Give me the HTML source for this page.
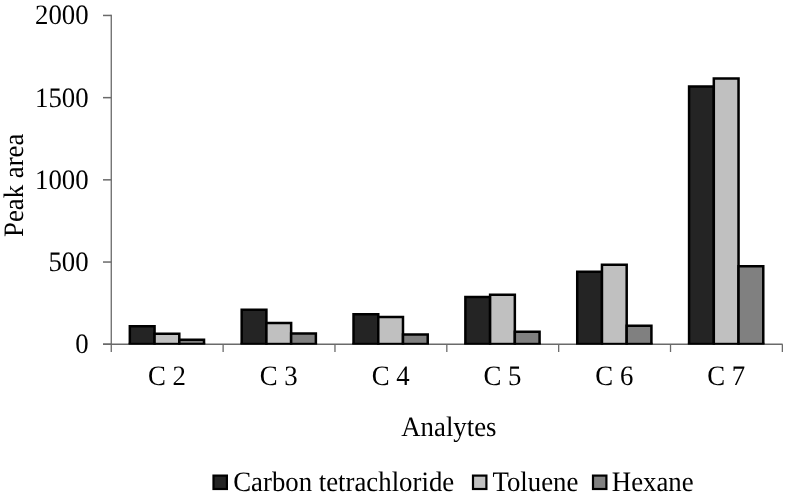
<!DOCTYPE html>
<html><head><meta charset="utf-8"><style>
html,body{margin:0;padding:0;background:#fff;}
svg{display:block;will-change:transform;}
text{text-rendering:geometricPrecision;font-family:"Liberation Serif",serif;font-size:26.8px;fill:#000;}
</style></head><body>
<svg width="786" height="499" viewBox="0 0 786 499">
<line x1="111.27" y1="14.8" x2="111.27" y2="352" stroke="#6a6a6a" stroke-width="1.3"/>
<line x1="103" y1="344.24" x2="782.6" y2="344.24" stroke="#6a6a6a" stroke-width="1.5"/>
<line x1="103" y1="15.45" x2="111.27" y2="15.45" stroke="#6a6a6a" stroke-width="1.5"/>
<line x1="103" y1="97.65" x2="111.27" y2="97.65" stroke="#6a6a6a" stroke-width="1.5"/>
<line x1="103" y1="179.84" x2="111.27" y2="179.84" stroke="#6a6a6a" stroke-width="1.5"/>
<line x1="103" y1="262.04" x2="111.27" y2="262.04" stroke="#6a6a6a" stroke-width="1.5"/>
<line x1="103" y1="344.24" x2="111.27" y2="344.24" stroke="#6a6a6a" stroke-width="1.5"/>
<line x1="223.12" y1="344.24" x2="223.12" y2="352" stroke="#6a6a6a" stroke-width="1.3"/>
<line x1="334.97" y1="344.24" x2="334.97" y2="352" stroke="#6a6a6a" stroke-width="1.3"/>
<line x1="446.82" y1="344.24" x2="446.82" y2="352" stroke="#6a6a6a" stroke-width="1.3"/>
<line x1="558.67" y1="344.24" x2="558.67" y2="352" stroke="#6a6a6a" stroke-width="1.3"/>
<line x1="670.52" y1="344.24" x2="670.52" y2="352" stroke="#6a6a6a" stroke-width="1.3"/>
<line x1="782.37" y1="344.24" x2="782.37" y2="352" stroke="#6a6a6a" stroke-width="1.3"/>
<rect x="129.83" y="326.35" width="24.73" height="17.40" fill="#242424"/>
<path d="M129.83 343.75V326.35H154.56V343.75" fill="none" stroke="#000" stroke-width="2.5" stroke-linejoin="miter"/>
<line x1="128.58" y1="343.75" x2="155.81" y2="343.75" stroke="#000" stroke-width="1.9"/>
<rect x="154.56" y="333.85" width="24.73" height="9.90" fill="#c0c0c0"/>
<path d="M154.56 343.75V333.85H179.29V343.75" fill="none" stroke="#000" stroke-width="2.5" stroke-linejoin="miter"/>
<line x1="153.31" y1="343.75" x2="180.54" y2="343.75" stroke="#000" stroke-width="1.9"/>
<rect x="179.29" y="339.65" width="24.73" height="4.10" fill="#808080"/>
<path d="M179.29 343.75V339.65H204.02V343.75" fill="none" stroke="#000" stroke-width="2.5" stroke-linejoin="miter"/>
<line x1="178.04" y1="343.75" x2="205.27" y2="343.75" stroke="#000" stroke-width="1.9"/>
<rect x="241.68" y="309.65" width="24.73" height="34.10" fill="#242424"/>
<path d="M241.68 343.75V309.65H266.41V343.75" fill="none" stroke="#000" stroke-width="2.5" stroke-linejoin="miter"/>
<line x1="240.43" y1="343.75" x2="267.66" y2="343.75" stroke="#000" stroke-width="1.9"/>
<rect x="266.41" y="322.95" width="24.73" height="20.80" fill="#c0c0c0"/>
<path d="M266.41 343.75V322.95H291.14V343.75" fill="none" stroke="#000" stroke-width="2.5" stroke-linejoin="miter"/>
<line x1="265.16" y1="343.75" x2="292.39" y2="343.75" stroke="#000" stroke-width="1.9"/>
<rect x="291.14" y="333.45" width="24.73" height="10.30" fill="#808080"/>
<path d="M291.14 343.75V333.45H315.87V343.75" fill="none" stroke="#000" stroke-width="2.5" stroke-linejoin="miter"/>
<line x1="289.89" y1="343.75" x2="317.12" y2="343.75" stroke="#000" stroke-width="1.9"/>
<rect x="353.53" y="314.15" width="24.73" height="29.60" fill="#242424"/>
<path d="M353.53 343.75V314.15H378.26V343.75" fill="none" stroke="#000" stroke-width="2.5" stroke-linejoin="miter"/>
<line x1="352.28" y1="343.75" x2="379.51" y2="343.75" stroke="#000" stroke-width="1.9"/>
<rect x="378.26" y="317.05" width="24.73" height="26.70" fill="#c0c0c0"/>
<path d="M378.26 343.75V317.05H402.99V343.75" fill="none" stroke="#000" stroke-width="2.5" stroke-linejoin="miter"/>
<line x1="377.01" y1="343.75" x2="404.24" y2="343.75" stroke="#000" stroke-width="1.9"/>
<rect x="402.99" y="334.45" width="24.73" height="9.30" fill="#808080"/>
<path d="M402.99 343.75V334.45H427.72V343.75" fill="none" stroke="#000" stroke-width="2.5" stroke-linejoin="miter"/>
<line x1="401.74" y1="343.75" x2="428.97" y2="343.75" stroke="#000" stroke-width="1.9"/>
<rect x="465.38" y="297.05" width="24.73" height="46.70" fill="#242424"/>
<path d="M465.38 343.75V297.05H490.11V343.75" fill="none" stroke="#000" stroke-width="2.5" stroke-linejoin="miter"/>
<line x1="464.13" y1="343.75" x2="491.36" y2="343.75" stroke="#000" stroke-width="1.9"/>
<rect x="490.11" y="294.75" width="24.73" height="49.00" fill="#c0c0c0"/>
<path d="M490.11 343.75V294.75H514.84V343.75" fill="none" stroke="#000" stroke-width="2.5" stroke-linejoin="miter"/>
<line x1="488.86" y1="343.75" x2="516.09" y2="343.75" stroke="#000" stroke-width="1.9"/>
<rect x="514.84" y="331.85" width="24.73" height="11.90" fill="#808080"/>
<path d="M514.84 343.75V331.85H539.57V343.75" fill="none" stroke="#000" stroke-width="2.5" stroke-linejoin="miter"/>
<line x1="513.59" y1="343.75" x2="540.82" y2="343.75" stroke="#000" stroke-width="1.9"/>
<rect x="577.23" y="271.85" width="24.73" height="71.90" fill="#242424"/>
<path d="M577.23 343.75V271.85H601.96V343.75" fill="none" stroke="#000" stroke-width="2.5" stroke-linejoin="miter"/>
<line x1="575.98" y1="343.75" x2="603.21" y2="343.75" stroke="#000" stroke-width="1.9"/>
<rect x="601.96" y="264.85" width="24.73" height="78.90" fill="#c0c0c0"/>
<path d="M601.96 343.75V264.85H626.69V343.75" fill="none" stroke="#000" stroke-width="2.5" stroke-linejoin="miter"/>
<line x1="600.71" y1="343.75" x2="627.94" y2="343.75" stroke="#000" stroke-width="1.9"/>
<rect x="626.69" y="325.85" width="24.73" height="17.90" fill="#808080"/>
<path d="M626.69 343.75V325.85H651.42V343.75" fill="none" stroke="#000" stroke-width="2.5" stroke-linejoin="miter"/>
<line x1="625.44" y1="343.75" x2="652.67" y2="343.75" stroke="#000" stroke-width="1.9"/>
<rect x="689.08" y="86.55" width="24.73" height="257.20" fill="#242424"/>
<path d="M689.08 343.75V86.55H713.81V343.75" fill="none" stroke="#000" stroke-width="2.5" stroke-linejoin="miter"/>
<line x1="687.83" y1="343.75" x2="715.06" y2="343.75" stroke="#000" stroke-width="1.9"/>
<rect x="713.81" y="78.50" width="24.73" height="265.25" fill="#c0c0c0"/>
<path d="M713.81 343.75V78.50H738.54V343.75" fill="none" stroke="#000" stroke-width="2.5" stroke-linejoin="miter"/>
<line x1="712.56" y1="343.75" x2="739.79" y2="343.75" stroke="#000" stroke-width="1.9"/>
<rect x="738.54" y="266.15" width="24.73" height="77.60" fill="#808080"/>
<path d="M738.54 343.75V266.15H763.27V343.75" fill="none" stroke="#000" stroke-width="2.5" stroke-linejoin="miter"/>
<line x1="737.29" y1="343.75" x2="764.52" y2="343.75" stroke="#000" stroke-width="1.9"/>
<text x="88.6" y="24.40" text-anchor="end" transform="translate(0 24.40) scale(1 1.05) translate(0 -24.40)">2000</text>
<text x="88.6" y="106.58" text-anchor="end" transform="translate(0 106.58) scale(1 1.05) translate(0 -106.58)">1500</text>
<text x="88.6" y="188.75" text-anchor="end" transform="translate(0 188.75) scale(1 1.05) translate(0 -188.75)">1000</text>
<text x="88.6" y="270.92" text-anchor="end" transform="translate(0 270.92) scale(1 1.05) translate(0 -270.92)">500</text>
<text x="88.6" y="353.10" text-anchor="end" transform="translate(0 353.10) scale(1 1.05) translate(0 -353.10)">0</text>
<text x="166.93" y="384.7" text-anchor="middle" transform="translate(0 384.7) scale(1 1.05) translate(0 -384.7)">C 2</text>
<text x="278.77" y="384.7" text-anchor="middle" transform="translate(0 384.7) scale(1 1.05) translate(0 -384.7)">C 3</text>
<text x="390.62" y="384.7" text-anchor="middle" transform="translate(0 384.7) scale(1 1.05) translate(0 -384.7)">C 4</text>
<text x="502.47" y="384.7" text-anchor="middle" transform="translate(0 384.7) scale(1 1.05) translate(0 -384.7)">C 5</text>
<text x="614.33" y="384.7" text-anchor="middle" transform="translate(0 384.7) scale(1 1.05) translate(0 -384.7)">C 6</text>
<text x="726.17" y="384.7" text-anchor="middle" transform="translate(0 384.7) scale(1 1.05) translate(0 -384.7)">C 7</text>
<text x="448.9" y="435.6" text-anchor="middle" transform="translate(0 435.6) scale(1 1.05) translate(0 -435.6)">Analytes</text>
<text x="0" y="0" text-anchor="middle" transform="translate(22.9 185.3) rotate(-90) scale(1 1.05)">Peak area</text>
<rect x="213.50" y="475.6" width="13.4" height="13.4" fill="#242424" stroke="#000" stroke-width="2.2"/>
<text x="233.2" y="490.8" transform="translate(0 490.8) scale(1 1.05) translate(0 -490.8)">Carbon tetrachloride</text>
<rect x="473.00" y="475.6" width="13.4" height="13.4" fill="#c0c0c0" stroke="#000" stroke-width="2.2"/>
<text x="492.4" y="490.8" transform="translate(0 490.8) scale(1 1.05) translate(0 -490.8)">Toluene</text>
<rect x="593.00" y="475.6" width="13.4" height="13.4" fill="#808080" stroke="#000" stroke-width="2.2"/>
<text x="611.8" y="490.8" transform="translate(0 490.8) scale(1 1.05) translate(0 -490.8)">Hexane</text>
</svg>
</body></html>
